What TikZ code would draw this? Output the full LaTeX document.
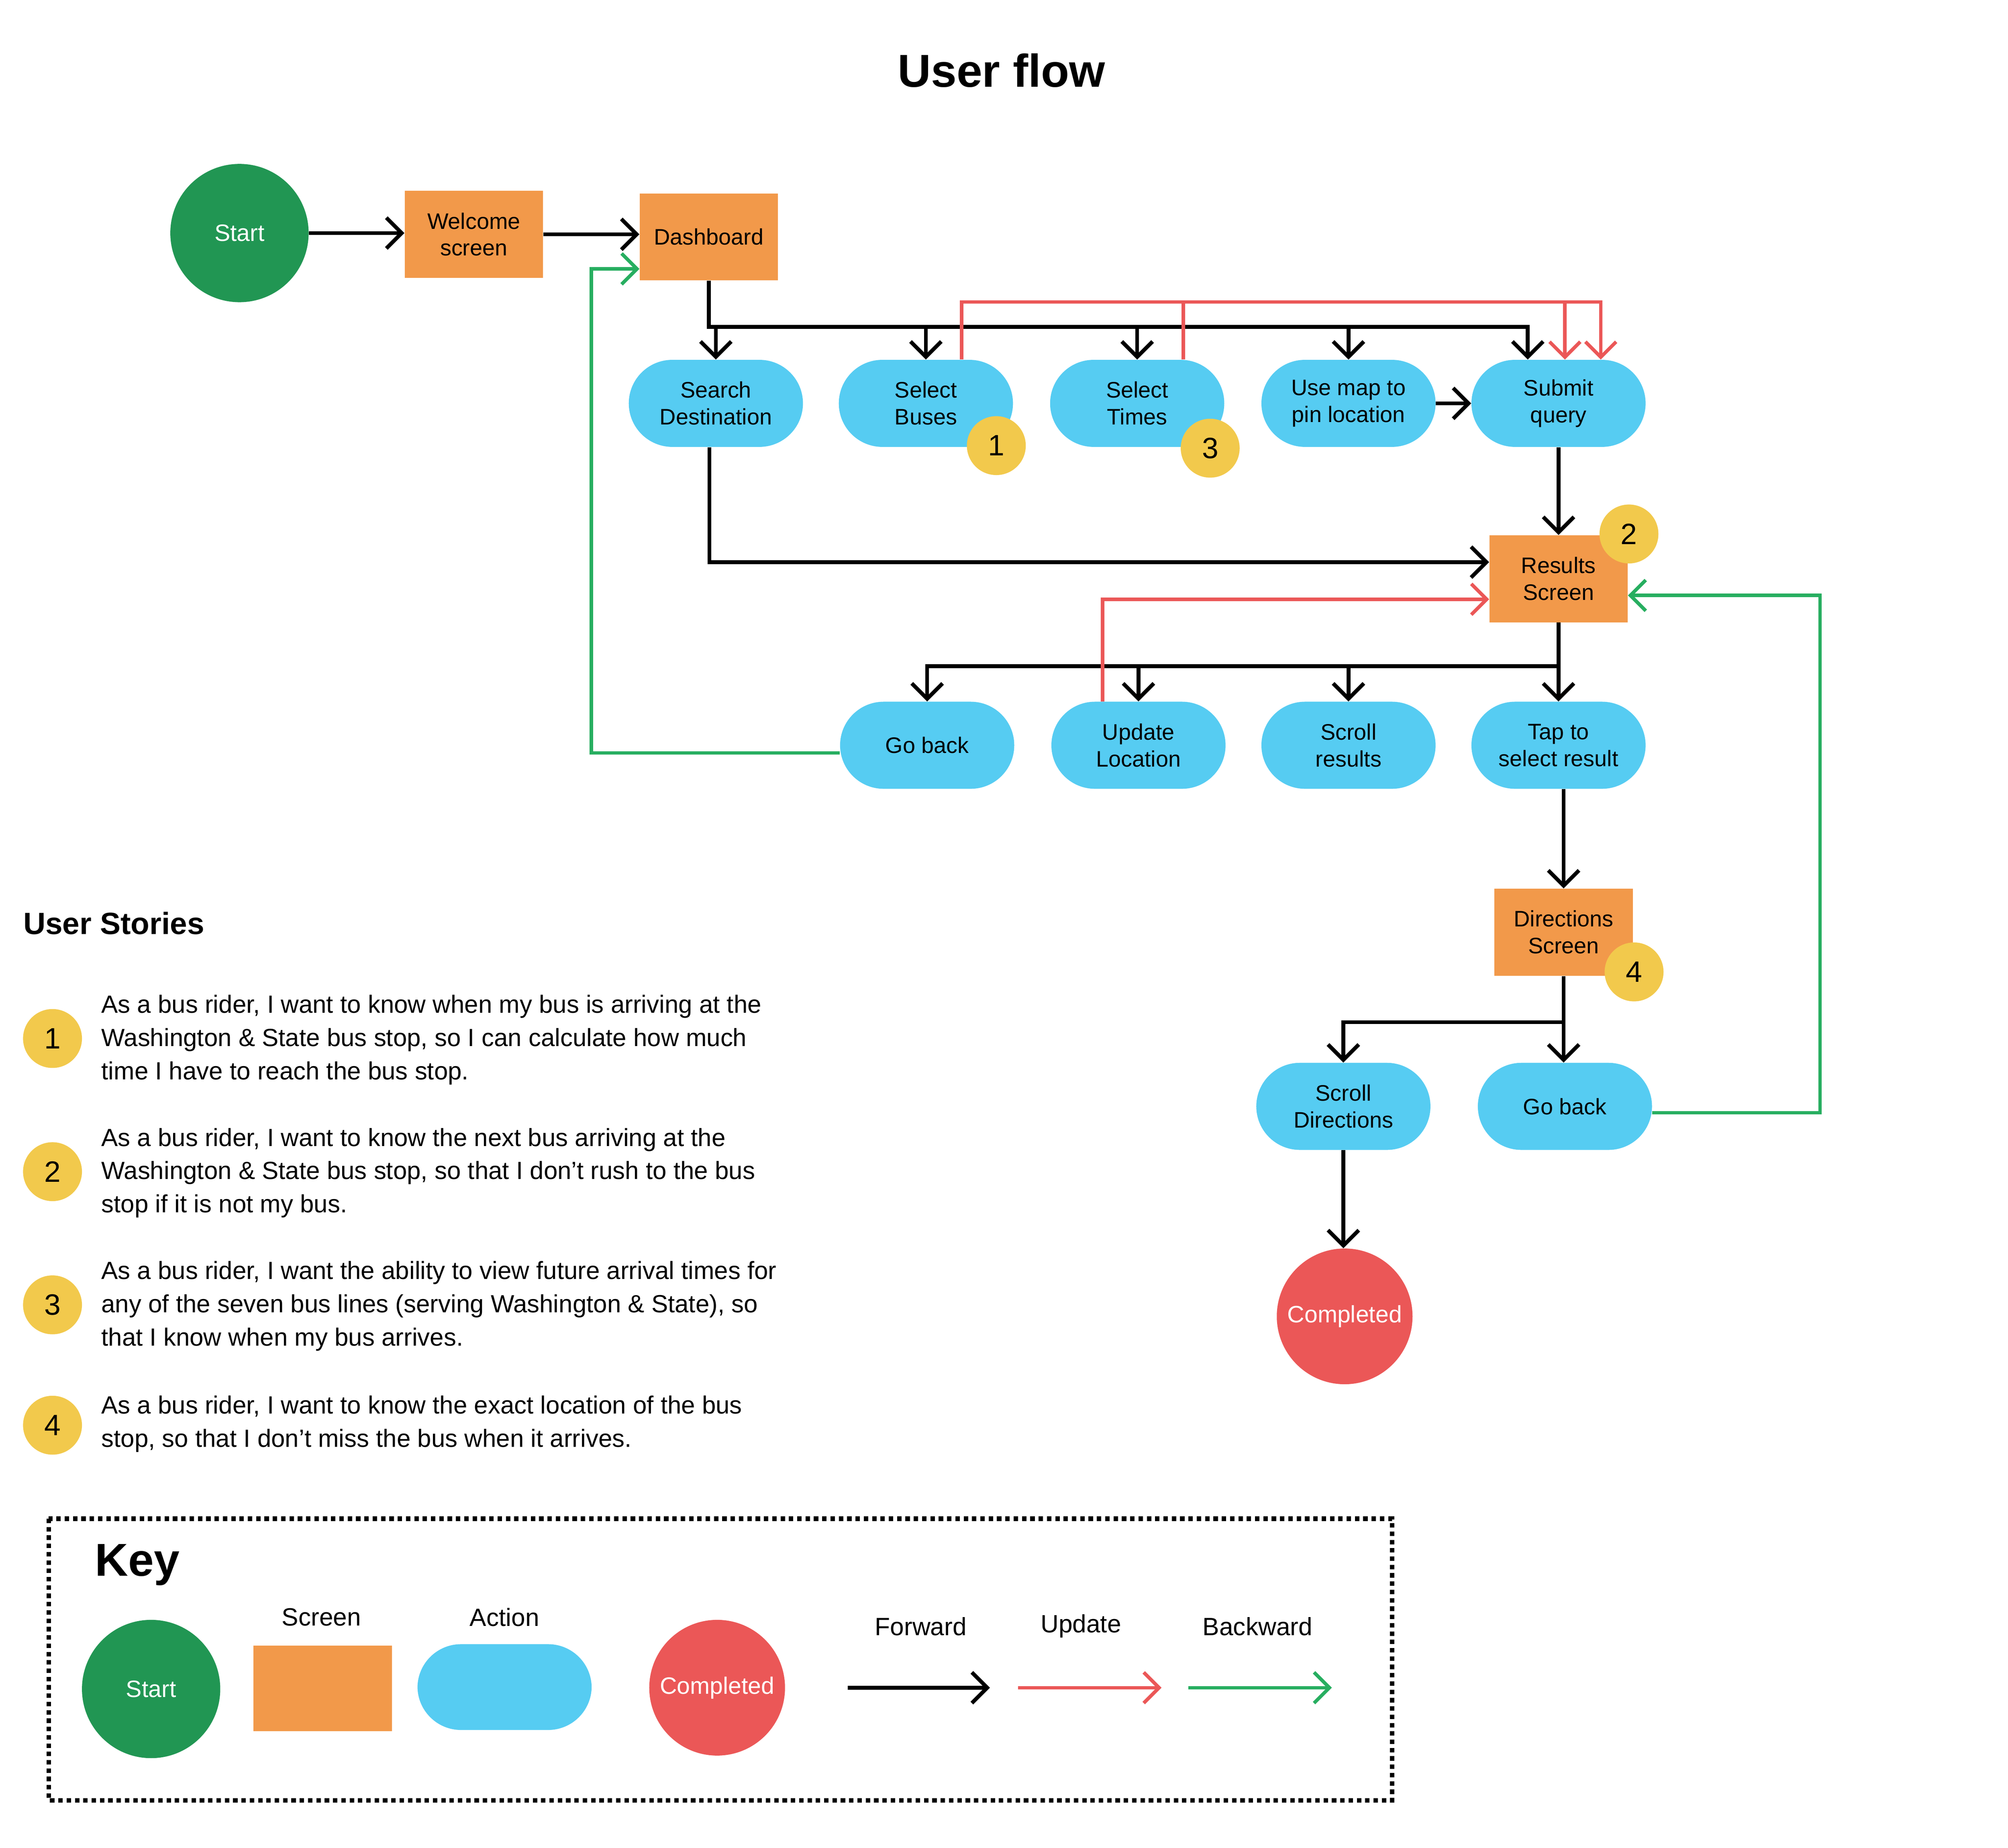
\documentclass[tikz,border=0pt]{standalone}
\usepackage{fontspec}
\setmainfont{Liberation Sans}
\usetikzlibrary{arrows.meta,calc}
\definecolor{startgreen}{HTML}{219653}
\definecolor{backgreen}{HTML}{27AE60}
\definecolor{screenorange}{HTML}{F2994A}
\definecolor{actionblue}{HTML}{56CCF2}
\definecolor{donered}{HTML}{EB5757}
\definecolor{badgeyellow}{HTML}{F2C94C}
\newcommand{\nodefont}{\fontsize{17.5}{21}\selectfont}
\newcommand{\storyfont}{\fontsize{19.4}{26}\selectfont}
\tikzset{
	screen/.style={fill=screenorange, minimum width=108pt, minimum height=68pt, inner sep=0pt, align=center, font=\nodefont},
	action/.style={fill=actionblue, rounded corners=34pt, minimum width=136pt, minimum height=68pt, inner sep=0pt, align=center, font=\nodefont},
	endpoint/.style={circle, minimum size=#1, inner sep=0pt, text=white, font=\fontsize{18.5}{21}\selectfont},
	badge/.style={circle, fill=badgeyellow, minimum size=46pt, inner sep=0pt, font=\fontsize{23}{23}\selectfont},
	story/.style={anchor=west, align=left, inner sep=0pt, font=\storyfont},
	keylabel/.style={font=\fontsize{19.5}{20}\selectfont},
	fwdline/.style={draw=black, line width=3pt, -{Straight Barb[length=12pt,width=24pt]}},
	updline/.style={draw=donered, line width=2.7pt, -{Straight Barb[length=12pt,width=24pt]}},
	backline/.style={draw=backgreen, line width=2.7pt, -{Straight Barb[length=12pt,width=24pt]}},
}
\begin{document}
\begin{tikzpicture}[x=1pt,y=-1pt]
	%%%%% START %%%%%
	\fill[white] (0,0) rectangle (1568,1443);
	\useasboundingbox (0,0) rectangle (1568,1443);

	\node[font=\fontsize{36}{36}\selectfont\bfseries] (title) at (782,55) {User flow};

	% screens and start
	\node[endpoint=108pt, fill=startgreen] (start) at (187,182) {Start};
	\node[screen] (welcome) at (370,183) {Welcome\\screen};
	\node[screen] (dash) at (553.5,185) {Dashboard};
	\node[screen] (results) at (1217,452) {Results\\Screen};
	\node[screen] (dirs) at (1221,728) {Directions\\Screen};

	% actions
	\node[action] (search) at (559,315) {Search\\Destination};
	\node[action] (buses) at (723,315) {Select\\Buses};
	\node[action] (times) at (888,315) {Select\\Times};
	\node[action] (pinmap) at (1053,315) {Use map to\\pin location};
	\node[action] (submit) at (1217,315) {Submit\\query};

	\node[action] (goback) at (724,582) {Go back};
	\node[action] (update) at (889,582) {Update\\Location};
	\node[action] (scroll) at (1053,582) {Scroll\\results};
	\node[action] (tap) at (1217,582) {Tap to\\select result};

	\node[action] (scrolld) at (1049,864) {Scroll\\Directions};
	\node[action] (gobackd) at (1222,864) {Go back};

	\node[endpoint=106pt, fill=donered] (done) at (1050,1028) {Completed};

	% forward
	\draw[fwdline] (start.east) -- (start.east -| welcome.west);
	\draw[fwdline] (welcome.east) -- (welcome.east -| dash.west);
	\draw[fwdline] (dash.south) -- ++(0,36) coordinate (dbus) -| ([xshift=-24pt]submit.north);
	\foreach \n in {search,buses,times,pinmap}
		\draw[fwdline] (dbus -| \n.north) -- (\n.north);
	\draw[fwdline] (pinmap.east) -- (submit.west);
	\draw[fwdline] ([xshift=-5pt]search.south) |- ([yshift=13pt]results.west);
	\draw[fwdline] (submit.south) -- (results.north);
	\draw[fwdline] (results.south) -- ++(0,34) coordinate (rbus) -| (goback.north);
	\foreach \n in {update,scroll,tap}
		\draw[fwdline] (rbus -| \n.north) -- (\n.north);
	\draw[fwdline] (tap.south -| dirs.north) -- (dirs.north);
	\draw[fwdline] (dirs.south) -- ++(0,36) coordinate (dbus2) -| (scrolld.north);
	\draw[fwdline] (dbus2) -- (dbus2 |- gobackd.north);
	\draw[fwdline] (scrolld.south) -- (scrolld.south |- done.north);

	% update
	\draw[updline] ([xshift=28pt]buses.north) -- ++(0,-45) -| ([xshift=5pt]submit.north);
	\draw[updline] ([xshift=36pt]times.north) -- ++(0,-45) -| ([xshift=33pt]submit.north);
	\draw[updline] ([xshift=-28pt]update.north) |- ([yshift=-16pt]results.west);

	% backward
	\draw[backline] ([yshift=-6pt]goback.west) -- ++(-194,0) |- ([yshift=-25pt]dash.west);
	\draw[backline] ([yshift=-5pt]gobackd.east) -- ++(131,0) |- ([yshift=-13pt]results.east);

	% badges
	\node[badge] (b1) at (778,348) {1};
	\node[badge] (b3) at (945,350) {3};
	\node[badge] (b2) at (1272,417) {2};
	\node[badge] (b4) at (1276,759) {4};

	% user stories
	\node[anchor=west, inner sep=0pt, font=\fontsize{24}{24}\selectfont\bfseries] (stories) at (18,721) {User Stories};
	\node[badge] (s1) at (41,811) {1};
	\node[story] (t1) at (79,812) {As a bus rider, I want to know when my bus is arriving at the\\Washington \& State bus stop, so I can calculate how much\\time I have to reach the bus stop.};
	\node[badge] (s2) at (41,915) {2};
	\node[story] (t2) at (79,916) {As a bus rider, I want to know the next bus arriving at the\\Washington \& State bus stop, so that I don’t rush to the bus\\stop if it is not my bus.};
	\node[badge] (s3) at (41,1019) {3};
	\node[story] (t3) at (79,1020) {As a bus rider, I want the ability to view future arrival times for\\any of the seven bus lines (serving Washington \& State), so\\that I know when my bus arrives.};
	\node[badge] (s4) at (41,1113) {4};
	\node[story] (t4) at (79,1112) {As a bus rider, I want to know the exact location of the bus\\stop, so that I don’t miss the bus when it arrives.};

	% key
	\draw[line width=3.5pt, dash pattern=on 3.5pt off 3pt] (38,1186) rectangle (1087,1406);
	\node[anchor=west, inner sep=0pt, font=\fontsize{36}{36}\selectfont\bfseries] (keytitle) at (74,1222) {Key};
	\node[endpoint=108pt, fill=startgreen] (kstart) at (118,1319) {Start};
	\node[screen, minimum height=67pt] (kscreen) at (252,1318.5) {};
	\node[keylabel] (lscreen) at (251,1263) {Screen};
	\node[action, minimum height=67pt] (kaction) at (394,1317.5) {};
	\node[keylabel] (laction) at (394,1263) {Action};
	\node[endpoint=106pt, fill=donered] (kdone) at (560,1318) {Completed};

	\node[keylabel] (lfwd) at (719,1270) {Forward};
	\node[keylabel] (lupd) at (844,1270) {Update};
	\node[keylabel] (lback) at (982,1270) {Backward};
	\coordinate (kf1) at (662,1318);
	\coordinate (kf2) at (773,1318);
	\coordinate (ku1) at (795,1318);
	\coordinate (ku2) at (907,1318);
	\coordinate (kb1) at (928,1318);
	\coordinate (kb2) at (1040,1318);
	\draw[fwdline] (kf1) -- (kf2);
	\draw[updline] (ku1) -- (ku2);
	\draw[backline] (kb1) -- (kb2);
	%%%%% END %%%%%
\end{tikzpicture}
\end{document}
